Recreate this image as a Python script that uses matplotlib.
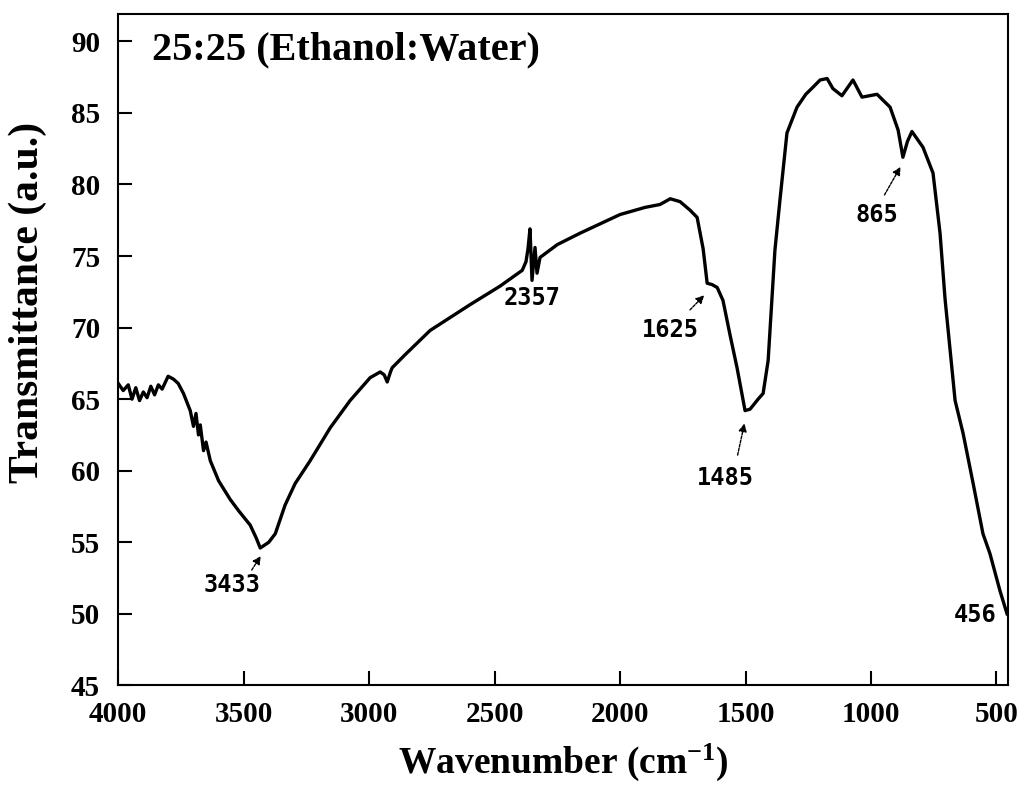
import matplotlib
matplotlib.use('Agg')
import matplotlib.pyplot as plt

# FTIR spectrum values (wavenumber in cm-1, transmittance in a.u.)
wavenumber = [4000, 3980, 3960, 3945, 3930, 3915, 3900, 3885, 3870, 3855, 3840, 3825,
              3801, 3780, 3761, 3740, 3713, 3700, 3690, 3680, 3673, 3660, 3650, 3633,
              3600, 3554, 3520, 3474, 3450, 3434, 3400, 3374, 3335, 3295, 3235, 3155,
              3076, 2996, 2956, 2940, 2928, 2915, 2908, 2857, 2757, 2598, 2478, 2390,
              2375, 2367, 2359, 2351, 2339, 2331, 2319, 2250, 2159, 2000, 1900, 1841,
              1800, 1761, 1721, 1693, 1669, 1653, 1633, 1613, 1590, 1562, 1534, 1502,
              1482, 1450, 1430, 1410, 1383, 1363, 1335, 1295, 1260, 1231, 1203, 1175,
              1152, 1116, 1072, 1036, 976, 924, 892, 873, 855, 837, 793, 753, 725, 705,
              665, 633, 593, 554, 526, 486, 458]
transmittance = [66.1, 65.6, 66.0, 65.0, 65.8, 64.9, 65.5, 65.1, 65.9, 65.3, 66.0, 65.7,
                 66.6, 66.4, 66.1, 65.4, 64.2, 63.1, 64.0, 62.5, 63.2, 61.4, 62.0, 60.7,
                 59.3, 58.0, 57.2, 56.2, 55.3, 54.6, 55.0, 55.6, 57.6, 59.1, 60.7, 63.0,
                 64.9, 66.5, 66.9, 66.7, 66.2, 66.9, 67.2, 68.1, 69.8, 71.6, 72.9, 74.0,
                 74.6, 75.5, 76.9, 73.3, 75.6, 73.8, 74.9, 75.8, 76.6, 77.9, 78.4, 78.6,
                 79.0, 78.8, 78.2, 77.7, 75.5, 73.1, 73.0, 72.8, 71.9, 69.5, 67.2, 64.2,
                 64.3, 65.0, 65.4, 67.7, 75.4, 78.9, 83.6, 85.4, 86.3, 86.8, 87.3, 87.4,
                 86.7, 86.2, 87.3, 86.1, 86.3, 85.4, 83.8, 81.9, 83.0, 83.7, 82.6, 80.8,
                 76.6, 72.0, 64.9, 62.6, 59.1, 55.6, 54.2, 51.6, 50.0]

# peak labels: text, label position, arrow tail and tip (None = no arrow)
peak_labels = ['3433', '2357', '1625', '1485', '865', '456']
label_pos = [(3546, 52.0), (2351, 72.1), (1801, 69.8), (1582, 59.5), (976, 77.9), (586, 49.9)]
arrow_tip = [(3426, 54.2), None, (1657, 72.4), (1502, 63.5), (877, 81.4), None]
arrow_tail = [(3474, 52.9), None, (1729, 71.1), (1534, 60.9), (952, 79.1), None]

x_ticks = [4000, 3500, 3000, 2500, 2000, 1500, 1000, 500]
y_ticks = [45, 50, 55, 60, 65, 70, 75, 80, 85, 90]

serif = 'Liberation Serif'
plt.rcParams['mathtext.default'] = 'bf'
plt.rcParams['mathtext.fontset'] = 'custom'
plt.rcParams['mathtext.bf'] = 'Liberation Serif:bold'

fig = plt.figure(figsize=(10.19, 7.86), dpi=100)
ax = fig.add_axes([0.116, 0.128, 0.873, 0.854])

ax.plot(wavenumber, transmittance, color='black', linewidth=2.4)

ax.set_xlim(4000, 455)
ax.set_ylim(45, 91.9)
ax.set_xticks(x_ticks)
ax.set_yticks(y_ticks)
ax.tick_params(axis='x', direction='in', length=10, width=1.5, top=False, pad=11)
ax.tick_params(axis='y', direction='in', length=10, width=1.5, right=False, pad=13)
for lbl in ax.get_xticklabels() + ax.get_yticklabels():
    lbl.set_fontfamily(serif)
    lbl.set_fontweight('bold')
    lbl.set_fontsize(21)
for sp in ax.spines.values():
    sp.set_linewidth(1.5)

ax.set_xlabel('Wavenumber (cm$^{-1}$)', fontfamily=serif, fontweight='bold',
              fontsize=27, labelpad=10)
ax.set_ylabel('Transmittance (a.u.)', fontfamily=serif, fontweight='bold', fontsize=30)
ax.yaxis.set_label_coords(-0.08, 0.57)

ax.text(3865, 89.4, '25:25 (Ethanol:Water)', fontfamily=serif, fontweight='bold',
        fontsize=29, va='center', ha='left')

for i, txt in enumerate(peak_labels):
    ax.text(label_pos[i][0], label_pos[i][1], txt, fontfamily='DejaVu Sans Mono',
            fontweight='bold', fontsize=17, ha='center', va='center')
    if arrow_tip[i] is not None:
        ax.annotate('', xy=arrow_tip[i], xytext=arrow_tail[i],
                    arrowprops=dict(arrowstyle='-|>', color='black', lw=1,
                                    linestyle=(0, (2, 1)), mutation_scale=12))

plt.savefig('out.png', dpi=100)
